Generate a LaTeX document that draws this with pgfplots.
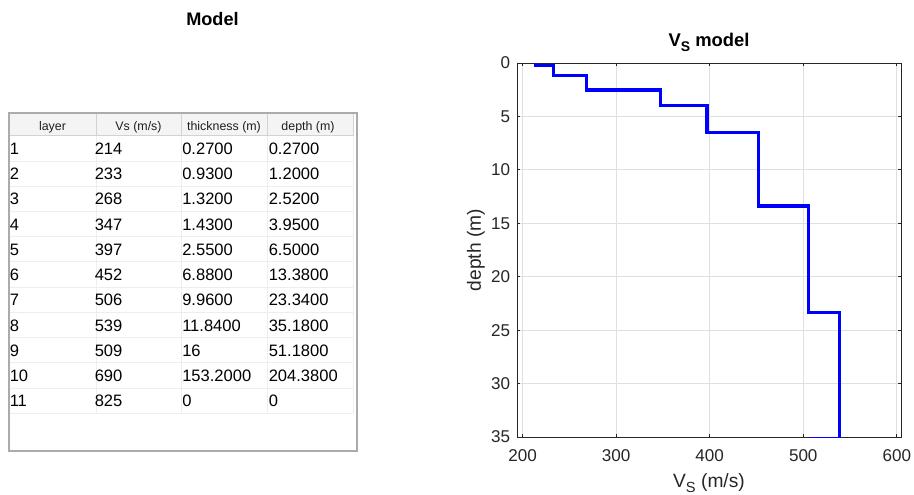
\documentclass[border=0pt]{standalone}
\usepackage{fontspec}
\setmainfont{Liberation Sans}
\usepackage{pgfplots}
\pgfplotsset{compat=1.18}

\definecolor{mgray}{HTML}{262626}
\definecolor{gridc}{HTML}{DFDFDF}
\definecolor{hdrfill}{HTML}{F4F4F4}
\definecolor{hdrsep}{HTML}{D2D2D2}
\definecolor{rowline}{HTML}{EEEEEE}
\definecolor{tborder}{HTML}{ABABAB}
\definecolor{hdrtext}{HTML}{1E1E1E}

\begin{document}
\begin{tikzpicture}
\useasboundingbox (0,0) rectangle (685.5pt,-371.25pt);

% ---------------- table (coordinates in pixels) ----------------
\begin{scope}[x=0.75pt,y=-0.75pt]
  \fill[white] (9,113) rectangle (357,451);
  \fill[hdrfill] (9,113) rectangle (353,136);
  % body grid
  \foreach \r in {1,...,11} {
    \draw[rowline, line width=0.75pt] (9,{136+\r*25.2}) -- (353,{136+\r*25.2});
  }
  \foreach \cx in {96,181,267,353} {
    \draw[rowline, line width=0.75pt] (\cx,136) -- (\cx,413.2);
    \draw[hdrsep, line width=0.75pt] (\cx,113) -- (\cx,136);
  }
  \draw[hdrsep, line width=0.75pt] (9,136) -- (353,136);
  \draw[tborder!60, line width=0.75pt] (356,113) -- (356,451);
  \draw[tborder, line width=1.2pt] (9,113) rectangle (357,451);
  % header text
  \begin{scope}[every node/.style={anchor=base, inner sep=0, text=hdrtext, font=\fontsize{9.3}{11}\selectfont}]
    \node at (52.5,131) {layer};
    \node at (138.5,131) {Vs (m/s)};
    \node at (224,131) {thickness (m)};
    \node at (308,131) {depth (m)};
  \end{scope}
  % body text
  \begin{scope}[every node/.style={anchor=base west, inner sep=0, font=\fontsize{12.4}{14}\selectfont}]
    \foreach \a/\b/\c/\d [count=\r from 0] in {
      1/214/0.2700/0.2700,
      2/233/0.9300/1.2000,
      3/268/1.3200/2.5200,
      4/347/1.4300/3.9500,
      5/397/2.5500/6.5000,
      6/452/6.8800/13.3800,
      7/506/9.9600/23.3400,
      8/539/11.8400/35.1800,
      9/509/16/51.1800,
      10/690/153.2000/204.3800,
      11/825/0/0} {
      \node at (9.5,{154.6+\r*25.2}) {\a};
      \node at (94.5,{154.6+\r*25.2}) {\b};
      \node at (182,{154.6+\r*25.2}) {\c};
      \node at (268.5,{154.6+\r*25.2}) {\d};
    }
  \end{scope}
  \node[anchor=base, inner sep=0, font=\fontsize{13.6}{15}\selectfont\bfseries] at (212.5,26) {Model};
\end{scope}

% ---------------- Vs model plot ----------------
\begin{axis}[
  at={(531.75pt,-187.5pt)}, anchor=center,
  scale only axis, width=288pt, height=280.5pt,
  xmin=194, xmax=604.5, ymin=0, ymax=35, y dir=reverse,
  xtick={200,300,400,500,600},
  ytick={0,5,10,15,20,25,30,35},
  grid=major,
  major grid style={gridc, line width=0.6pt},
  axis line style={mgray, line width=0.6pt},
  tick style={mgray, line width=0.6pt},
  tick align=inside,
  major tick length=2.5pt,
  /pgf/number format/assume math mode=true,
  tick label style={font=\fontsize{12.8}{14}\selectfont, text=mgray},
  xticklabel style={yshift=-6pt},
  yticklabel style={xshift=-1.7pt},
  every axis title shift=0pt,
  title={\bfseries V\raisebox{-0.45ex}{\fontsize{10.5}{11}\selectfont\bfseries S} model},
  title style={at={(axis description cs:0.5,1.0428)}, anchor=base, inner sep=0,
    font=\fontsize{13.8}{15}\selectfont, text=black},
  xlabel={V\raisebox{-0.5ex}{\fontsize{11}{12}\selectfont S} (m/s)},
  xlabel style={at={(axis description cs:0.5,-0.1337)}, anchor=base, inner sep=0,
    font=\fontsize{14.4}{16}\selectfont, text=mgray},
  ylabel={depth (m)},
  ylabel style={at={(axis description cs:-0.1068,0.5)}, anchor=center, inner sep=0,
    font=\fontsize{14.4}{16}\selectfont, text=mgray},
]
\addplot[color={rgb,1:red,0;green,0;blue,1}, line width=2.4pt, line join=miter] coordinates {
  (214,0) (214,0.27) (233,0.27) (233,1.2) (268,1.2) (268,2.52)
  (347,2.52) (347,3.95) (397,3.95) (397,6.5) (452,6.5) (452,13.38)
  (506,13.38) (506,23.34) (539,23.34) (539,35.18) (509,35.18) (509,51.18)
};
\end{axis}
\end{tikzpicture}
\end{document}
